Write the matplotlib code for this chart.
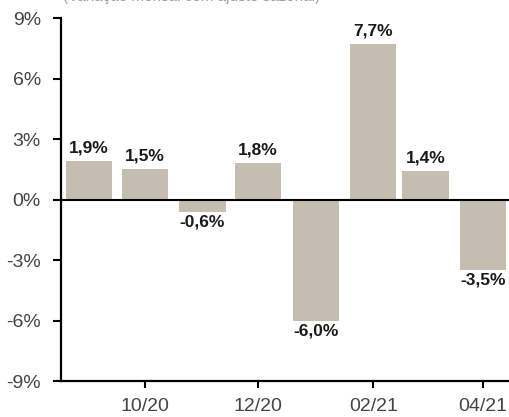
import matplotlib
matplotlib.use("Agg")
import matplotlib.pyplot as plt
import numpy as np
import pandas as pd

plt.rcParams['font.family'] = ['Liberation Sans', 'DejaVu Sans']

# Monthly variation (%)
months = ["2020-09-01", "2020-10-01", "2020-11-01", "2020-12-01",
          "2021-01-01", "2021-02-01", "2021-03-01", "2021-04-01"]
values = [1.9, 1.5, -0.6, 1.8, -6.0, 7.7, 1.4, -3.5]
labels = ["1,9%", "1,5%", "-0,6%", "1,8%", "-6,0%", "7,7%", "1,4%", "-3,5%"]
yticks = [-9, -6, -3, 0, 3, 6, 9]
ytick_labels = ["-9%", "-6%", "-3%", "0%", "3%", "6%", "9%"]
xtick_dates = ["2020-10-01", "2020-12-01", "2021-02-01", "2021-04-01"]
xtick_labels = ["10/20", "12/20", "02/21", "04/21"]
subtitle = "(Variação mensal com ajuste sazonal)"

dates = pd.to_datetime(months)
bar_color = "#C5BDB0"

fig = plt.figure(figsize=(5.10, 4.17), dpi=100)
ax = fig.add_axes([0.1196, 0.0863, 0.8804, 0.8705])

ax.bar(dates, values, width=24.8, color=bar_color, align="center", zorder=2)
ax.axhline(0, color="black", linewidth=1.5, zorder=3)

for d, v, lab in zip(dates, values, labels):
    if v >= 0:
        ax.annotate(lab, (d, v), xytext=(0, 4), textcoords="offset points",
                    ha="center", va="bottom", fontsize=12.5, fontweight="bold",
                    color="#1a1a1a")
    else:
        ax.annotate(lab, (d, v), xytext=(0, -2), textcoords="offset points",
                    ha="center", va="top", fontsize=12.5, fontweight="bold",
                    color="#1a1a1a")

ax.set_ylim(-9, 9)
ax.set_yticks(yticks)
ax.set_yticklabels(ytick_labels)
ax.set_xlim(pd.Timestamp("2020-08-16 20:00"), pd.Timestamp("2021-04-15 12:00"))
ax.set_xticks(pd.to_datetime(xtick_dates))
ax.set_xticklabels(xtick_labels)

for s in ["top", "right"]:
    ax.spines[s].set_visible(False)
for s in ["left", "bottom"]:
    ax.spines[s].set_linewidth(1.6)
    ax.spines[s].set_color("black")

ax.tick_params(axis="y", direction="out", length=6, width=1.5, pad=8.5,
               labelsize=14, labelcolor="#444444")
ax.tick_params(axis="x", direction="out", length=5, width=1.5, pad=7,
               labelsize=14, labelcolor="#444444")

fig.text(0.123, 1 - 0.5 / 417, subtitle, ha="left", va="baseline",
         fontsize=11, color="#a0a0a0")

fig.savefig("out.png", dpi=100)
